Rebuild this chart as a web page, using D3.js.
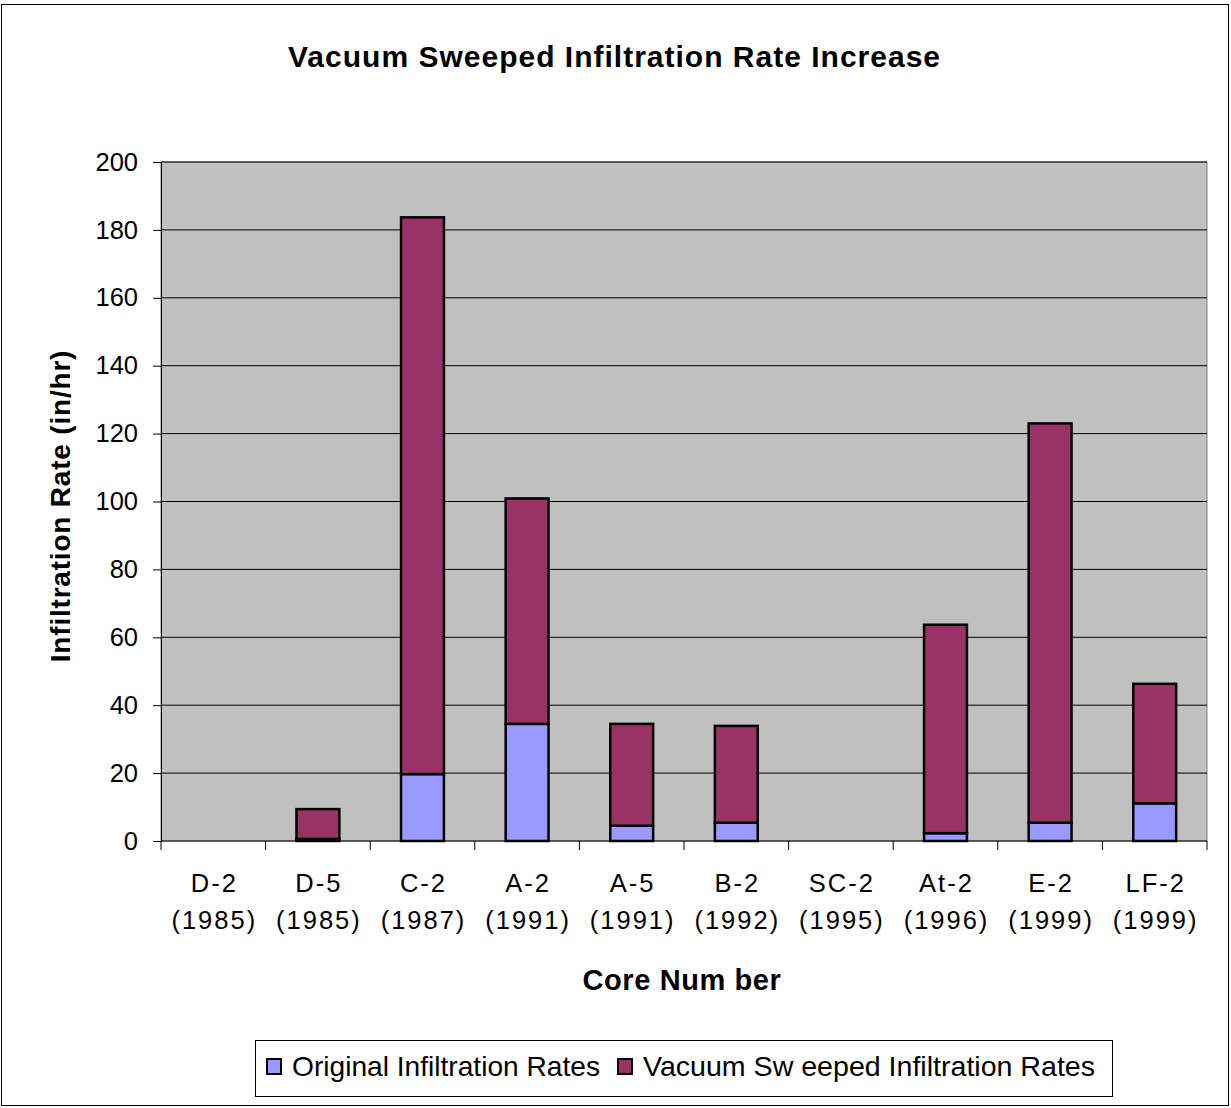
<!DOCTYPE html>
<html>
<head>
<meta charset="utf-8">
<script src="https://cdn.jsdelivr.net/npm/d3@7"></script>
<style>
  body { margin: 0; background: #fff; }
  svg { font-family: "Liberation Sans", Arial, sans-serif; }
</style>
</head>
<body>
<svg width="1231" height="1108"></svg>
<script>
const cores = ["D-2", "D-5", "C-2", "A-2", "A-5", "B-2", "SC-2", "At-2", "E-2", "LF-2"];
const years = ["(1985)", "(1985)", "(1987)", "(1991)", "(1991)", "(1992)", "(1995)", "(1996)", "(1999)", "(1999)"];
const original = [0, 0.6, 19.7, 34.5, 4.5, 5.4, 0, 2.3, 5.4, 11.1];
const vacuum = [0, 8.8, 164, 66.4, 30, 28.5, 0, 61.4, 117.6, 35.2];
const yTicks = [0, 20, 40, 60, 80, 100, 120, 140, 160, 180, 200];
const seriesNames = ["Original Infiltration Rates", "Vacuum Sw eeped Infiltration Rates"];
const seriesColors = ["#9999ff", "#993366"];

const svg = d3.select("svg");
const margin = {top: 162, left: 161, right: 24, bottom: 267};
const width = 1231 - margin.left - margin.right;
const height = 1108 - margin.top - margin.bottom;

// outer chart border
svg.append("rect")
    .attr("x", 1.5).attr("y", 4.5)
    .attr("width", 1227).attr("height", 1101)
    .attr("fill", "#fff").attr("stroke", "#000").attr("stroke-width", 1);

svg.append("text")
    .attr("x", 614).attr("y", 67)
    .attr("text-anchor", "middle")
    .attr("font-size", 30).attr("font-weight", "bold")
    .attr("textLength", 652)
    .attr("lengthAdjust", "spacing")
    .text("Vacuum Sweeped Infiltration Rate Increase");

const g = svg.append("g").attr("transform", `translate(${margin.left},${margin.top})`);

const x = d3.scaleBand().domain(cores).range([0, width]).paddingInner(0).paddingOuter(0);
const y = d3.scaleLinear().domain([0, 200]).range([height, 0]);

g.append("rect")
    .attr("width", width).attr("height", height)
    .attr("fill", "#c0c0c0").attr("stroke", "#808080");

// gridlines
g.selectAll(".grid")
    .data(yTicks.slice(1))
    .enter().append("line")
    .attr("x1", 0).attr("x2", width)
    .attr("y1", d => y(d)).attr("y2", d => y(d))
    .attr("stroke", "#000").attr("stroke-width", 1);

// y axis
const yAxis = g.append("g")
    .call(d3.axisLeft(y).tickValues(yTicks).tickSize(8).tickPadding(15));
yAxis.select(".domain").attr("stroke", "#000");
yAxis.selectAll("text").attr("font-size", 25.5).attr("fill", "#000")
    .attr("font-family", "Liberation Sans, Arial, sans-serif");

// x axis: ticks at category boundaries
const xAxis = g.append("g").attr("transform", `translate(0,${height})`);
xAxis.append("line").attr("x1", 0).attr("x2", width).attr("stroke", "#000");
xAxis.selectAll(".tk")
    .data(d3.range(cores.length + 1))
    .enter().append("line")
    .attr("x1", i => i * x.step()).attr("x2", i => i * x.step())
    .attr("y1", 0).attr("y2", 9)
    .attr("stroke", "#000");
const xl = xAxis.selectAll(".xl")
    .data(cores)
    .enter().append("text")
    .attr("text-anchor", "middle")
    .attr("font-size", 25.5)
    .attr("letter-spacing", 2)
    .attr("x", d => x(d) + x.bandwidth() / 2);
xl.append("tspan").attr("x", d => x(d) + x.bandwidth() / 2 + 1).attr("y", 51).text(d => d);
xl.append("tspan").attr("x", d => x(d) + x.bandwidth() / 2 + 1).attr("y", 88).text((d, i) => years[i]);

// stacked bars
const rows = cores.map((c, i) => ({core: c, s0: original[i], s1: vacuum[i]}));
const stack = d3.stack().keys(["s0", "s1"])(rows);
const barW = x.bandwidth() * 0.41;

g.selectAll(".series")
    .data(stack)
    .enter().append("g")
    .attr("fill", (d, i) => seriesColors[i])
    .selectAll("rect")
    .data(d => d.filter(p => p[1] - p[0] > 0))
    .enter().append("rect")
    .attr("x", d => x(d.data.core) + (x.bandwidth() - barW) / 2)
    .attr("y", d => y(d[1]))
    .attr("width", barW)
    .attr("height", d => y(d[0]) - y(d[1]))
    .attr("stroke", "#000").attr("stroke-width", 2.5);

// axis titles
svg.append("text")
    .attr("x", 682).attr("y", 990)
    .attr("text-anchor", "middle")
    .attr("font-size", 29).attr("font-weight", "bold")
    .attr("letter-spacing", 0.6)
    .text("Core Num ber");

svg.append("text")
    .attr("transform", `translate(70,506) rotate(-90)`)
    .attr("text-anchor", "middle")
    .attr("font-size", 28).attr("font-weight", "bold")
    .attr("letter-spacing", 0.8)
    .text("Infiltration Rate (in/hr)");

// legend
const lg = svg.append("g");
lg.append("rect")
    .attr("x", 255.5).attr("y", 1040.5)
    .attr("width", 857).attr("height", 56)
    .attr("fill", "#fff").attr("stroke", "#000");
const items = [{x: 267, tx: 292}, {x: 618, tx: 643}];
items.forEach((it, i) => {
    lg.append("rect")
        .attr("x", it.x).attr("y", 1059)
        .attr("width", 14).attr("height", 15)
        .attr("fill", seriesColors[i]).attr("stroke", "#000").attr("stroke-width", 2);
    lg.append("text")
        .attr("x", it.tx).attr("y", 1076)
        .attr("font-size", 28)
        .attr("textLength", i === 0 ? 308 : 452)
        .attr("lengthAdjust", "spacingAndGlyphs")
        .text(seriesNames[i]);
});
</script>
</body>
</html>
